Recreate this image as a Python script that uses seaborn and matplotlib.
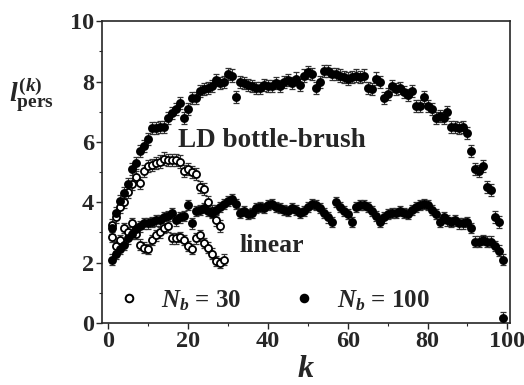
import numpy as np
import pandas as pd
import matplotlib
matplotlib.use("Agg")
import matplotlib.pyplot as plt
from matplotlib.ticker import MultipleLocator
import seaborn as sns

# Persistence length profiles along the backbone, k = 1 .. N_b - 1
k_30_brush = list(range(1, 29))
lp_30_brush = [3.25, 3.5, 3.85, 4.0, 4.35, 4.6, 4.85, 4.65, 5.05, 5.2, 5.25, 5.3, 5.35,
               5.45, 5.4, 5.4, 5.4, 5.35, 5.05, 5.1, 5.0, 4.95, 4.5, 4.45, 4.0, 3.7,
               3.4, 3.2]
k_30_linear = list(range(1, 30))
lp_30_linear = [2.85, 2.55, 2.75, 3.15, 3.0, 3.3, 2.95, 2.6, 2.5, 2.45, 2.75, 2.9, 3.0,
                3.15, 3.2, 2.8, 2.8, 2.85, 2.75, 2.55, 2.45, 2.8, 2.9, 2.65, 2.5,
                2.3, 2.05, 2.0, 2.1]

k_100 = list(range(1, 100))
lp_100_brush = [3.15, 3.65, 4.05, 4.3, 4.6, 5.1, 5.3, 5.7, 5.85, 6.1, 6.45, 6.45, 6.5,
                6.5, 6.8, 6.95, 7.1, 7.3, 6.8, 7.1, 7.45, 7.45, 7.7, 7.75, 7.8, 7.85,
                8.05, 7.95, 8.0, 8.25, 8.2, 7.5, 8.0, 7.95, 7.9, 7.85, 7.8, 7.8, 7.9,
                7.85, 7.85, 7.95, 7.85, 8.0, 8.05, 7.95, 8.1, 7.9, 8.2, 8.3, 8.25, 7.8,
                8.0, 8.35, 8.35, 8.25, 8.25, 8.2, 8.15, 8.1, 8.15, 8.2, 8.15, 8.2, 7.8,
                7.75, 8.1, 8.0, 7.45, 7.6, 7.85, 7.75, 7.8, 7.65, 7.55, 7.7, 7.2, 7.2,
                7.5, 7.2, 7.1, 6.8, 6.85, 6.8, 7.0, 6.5, 6.5, 6.45, 6.5, 6.3, 5.7, 5.1,
                5.05, 5.2, 4.5, 4.4, 3.5, 3.35, 0.15]
lp_100_linear = [2.1, 2.3, 2.45, 2.6, 2.8, 2.95, 3.1, 3.2, 3.3, 3.3, 3.35, 3.4, 3.4,
                 3.5, 3.55, 3.65, 3.4, 3.5, 3.55, 3.9, 3.3, 3.7, 3.75, 3.8, 3.7, 3.65,
                 3.75, 3.85, 3.95, 4.05, 4.1, 3.95, 3.65, 3.7, 3.6, 3.65, 3.8, 3.85,
                 3.8, 3.9, 3.95, 3.85, 3.8, 3.75, 3.7, 3.8, 3.75, 3.65, 3.7, 3.85, 3.95,
                 3.9, 3.8, 3.65, 3.5, 3.35, 4.0, 3.85, 3.7, 3.6, 3.35, 3.85, 3.9, 3.9,
                 3.85, 3.7, 3.55, 3.35, 3.5, 3.6, 3.65, 3.65, 3.7, 3.65, 3.6, 3.75,
                 3.85, 3.9, 3.95, 3.9, 3.75, 3.6, 3.35, 3.5, 3.4, 3.35, 3.4, 3.3, 3.3,
                 3.35, 3.15, 2.7, 2.7, 2.75, 2.7, 2.7, 2.55, 2.4, 2.1]

err_brush = 0.2
err_linear = 0.17

x_ticks = [0, 20, 40, 60, 80, 100]
y_ticks = [0, 2, 4, 6, 8, 10]

sns.set_theme(style="ticks")
plt.rcParams["font.family"] = ["Liberation Serif", "DejaVu Serif"]
plt.rcParams["font.weight"] = "bold"
plt.rcParams["mathtext.fontset"] = "custom"
plt.rcParams["mathtext.rm"] = "Liberation Serif:bold"
plt.rcParams["mathtext.it"] = "Liberation Serif:italic:bold"
plt.rcParams["mathtext.bf"] = "Liberation Serif:bold"

fig = plt.figure(figsize=(5.24, 3.85), dpi=100)
ax = fig.add_axes([0.195, 0.161, 0.779, 0.784])

series = [
    (k_30_brush, lp_30_brush, err_brush, "open"),
    (k_30_linear, lp_30_linear, err_linear, "open"),
    (k_100, lp_100_brush, err_brush, "filled"),
    (k_100, lp_100_linear, err_linear, "filled"),
]

handles = {}
for ks, vals, err, style in series:
    df = pd.DataFrame({"k": ks, "lp": vals})
    ax.errorbar(df["k"], df["lp"], yerr=err, fmt="none", ecolor="#333333",
                elinewidth=0.8, capsize=2.2, capthick=0.9, zorder=2)
    face = "white" if style == "open" else "black"
    sns.scatterplot(data=df, x="k", y="lp", ax=ax, marker="o", s=26,
                    facecolor=face, edgecolor="black", linewidth=1.3, zorder=3,
                    legend=False)
    handles[style] = plt.Line2D([], [], linestyle="none", marker="o",
                                markersize=5.5, markerfacecolor=face,
                                markeredgecolor="black", markeredgewidth=1.4)

ax.set_xlim(-1.5, 100.75)
ax.set_ylim(0, 10)
ax.set_xticks(x_ticks)
ax.set_yticks(y_ticks)
ax.xaxis.set_minor_locator(MultipleLocator(10))
ax.yaxis.set_minor_locator(MultipleLocator(1))
ax.tick_params(axis="both", which="major", direction="out", length=4, width=1,
               labelsize=17.5, pad=2)
ax.tick_params(axis="both", which="minor", direction="out", length=2.5, width=0.8)
for lab in ax.get_xticklabels() + ax.get_yticklabels():
    lab.set_fontweight("bold")
for sp in ax.spines.values():
    sp.set_linewidth(1.2)
    sp.set_visible(True)

ax.set_xlabel("$k$", fontsize=23, labelpad=2)
ax.set_ylabel("")
fig.text(0.018, 0.755, r"$l^{(k)}_{\mathrm{pers}}$", fontsize=20, ha="left", va="center")

ax.text(17.5, 5.83, "LD bottle-brush", fontsize=19.5, fontweight="bold",
        ha="left", va="baseline")
ax.text(32.8, 2.35, "linear", fontsize=18.5, fontweight="bold",
        ha="left", va="baseline")

ax.legend([handles["open"], handles["filled"]],
          ["$N_b$ = 30", "$N_b$ = 100"],
          loc="center left", bbox_to_anchor=(0.035, 0.075), ncol=2, frameon=False,
          fontsize=18, handlelength=1.0, handletextpad=0.8, columnspacing=2.0,
          borderaxespad=0.0, borderpad=0.0)

fig.savefig("out.png", dpi=100)
